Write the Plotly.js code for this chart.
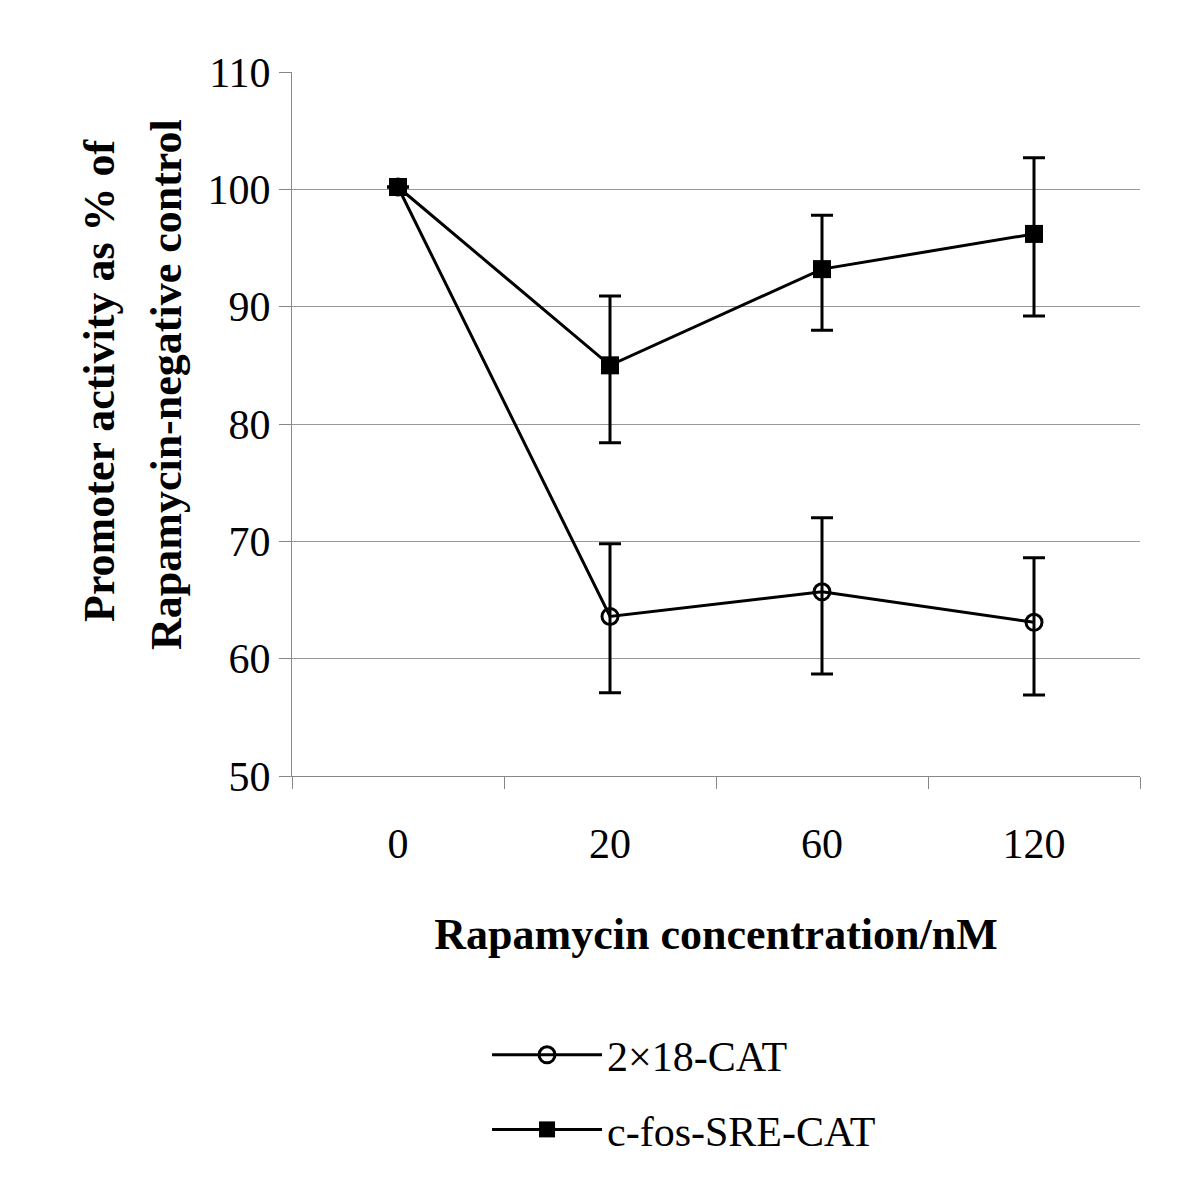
<!DOCTYPE html>
<html>
<head>
<meta charset="utf-8">
<script src="https://cdn.plot.ly/plotly-3.0.1.min.js"></script>
<style>html,body{margin:0;padding:0;background:#fff;}#chart{width:1200px;height:1200px;}</style>
</head>
<body>
<div id="chart"></div>
<script>
const categories = ["0", "20", "60", "120"];

const cat2x18Name = "2×18-CAT";
const cat2x18Values = [100.2, 63.6, 65.7, 63.1];
const cat2x18ErrPlus = [0, 6.2, 6.3, 5.5];
const cat2x18ErrMinus = [0, 6.5, 7.0, 6.2];

const sreName = "c-fos-SRE-CAT";
const sreValues = [100.2, 85.0, 93.2, 96.2];
const sreErrPlus = [0, 5.9, 4.6, 6.5];
const sreErrMinus = [0, 6.6, 5.2, 7.0];

const xTitle = "Rapamycin concentration/nM";
const yTitleLines = ["Promoter activity as % of", "Rapamycin-negative control"];

const serif = "Liberation Serif, Times New Roman, serif";

const traces = [
  {
    x: categories, y: cat2x18Values, name: cat2x18Name, legendgroup: "a", type: "scatter", mode: "lines+markers",
    line: {color: "#000", width: 3},
    marker: {symbol: "circle-open", size: 16, color: "#000", line: {width: 3, color: "#000"}},
    error_y: {type: "data", array: cat2x18ErrPlus, arrayminus: cat2x18ErrMinus, symmetric: false,
              color: "#000", thickness: 3, width: 11}
  },
  {
    x: categories, y: sreValues, name: sreName, legendgroup: "b", type: "scatter", mode: "lines+markers",
    line: {color: "#000", width: 3},
    marker: {symbol: "square", size: 18, color: "#000"},
    error_y: {type: "data", array: sreErrPlus, arrayminus: sreErrMinus, symmetric: false,
              color: "#000", thickness: 3, width: 11}
  }
];

const layout = {
  width: 1200, height: 1200,
  paper_bgcolor: "#fff", plot_bgcolor: "#fff",
  margin: {l: 292, r: 60, t: 72, b: 424},
  showlegend: true,
  font: {family: serif, color: "#000"},
  xaxis: {
    type: "category", range: [-0.5, 3.5],
    tickson: "boundaries", ticks: "outside", ticklen: 12, tickcolor: "#888", tickwidth: 1,
    showline: true, linecolor: "#888", linewidth: 1,
    showgrid: false, zeroline: false,
    tickfont: {family: serif, size: 42, color: "#000"},
    ticklabelstandoff: 31,
    title: {text: xTitle, font: {family: serif, size: 44, color: "#000", weight: "bold"}, standoff: 51}
  },
  yaxis: {
    range: [50, 110], dtick: 10, tick0: 50,
    ticks: "outside", ticklen: 12, tickcolor: "#888", tickwidth: 1,
    showline: true, linecolor: "#888", linewidth: 1,
    showgrid: true, gridcolor: "#999", gridwidth: 1, zeroline: false,
    tickfont: {family: serif, size: 42, color: "#000"},
    ticklabelstandoff: 0
  },
  annotations: [
    {text: yTitleLines[0], xref: "paper", yref: "paper", x: (99 - 292) / 848, y: (776 - 380) / 704,
     xanchor: "center", yanchor: "middle", textangle: -90, showarrow: false,
     font: {family: serif, size: 44, color: "#000", weight: "bold"}},
    {text: yTitleLines[1], xref: "paper", yref: "paper", x: (166 - 292) / 848, y: (776 - 385) / 704,
     xanchor: "center", yanchor: "middle", textangle: -90, showarrow: false,
     font: {family: serif, size: 44, color: "#000", weight: "bold"}}
  ],
  legend: {
    x: 0.23, y: -0.348, xanchor: "left", yanchor: "top",
    orientation: "v", bgcolor: "rgba(0,0,0,0)", traceorder: "grouped",
    font: {family: serif, size: 42, color: "#000"},
    itemwidth: 110, tracegroupgap: 17, itemsizing: "trace"
  }
};

Plotly.newPlot("chart", traces, layout, {displayModeBar: false, staticPlot: true});
</script>
</body>
</html>
